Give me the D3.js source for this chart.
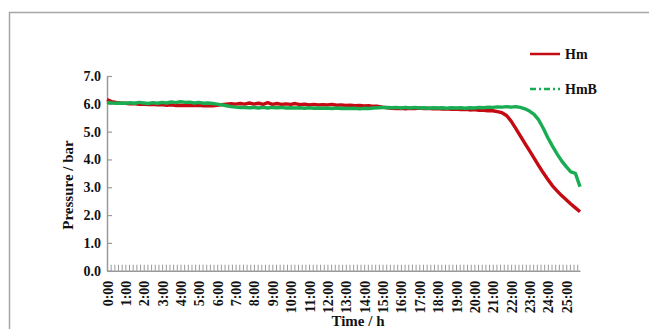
<!DOCTYPE html>
<html>
<head>
<meta charset="utf-8">
<script src="https://cdn.jsdelivr.net/npm/d3@7"></script>
<style>
  html, body { margin: 0; padding: 0; background: #fff; }
  svg { display: block; }
  text { font-family: "Liberation Serif", "Times New Roman", serif; font-weight: bold; fill: #111; }
</style>
</head>
<body>
<svg id="chart" width="649" height="329"></svg>
<script>
// Sampling times (hours) for both pressure records, every 15 minutes
const times = d3.range(0, 25.76, 0.25);

// Pressure record Hm (bar)
const hmValues = [
  6.15, 6.08, 6.05, 6.03, 6.02, 6.00, 6.01, 5.98, 5.99, 5.97, 5.98, 5.96,
  5.97, 5.95, 5.96, 5.94, 5.95, 5.94, 5.95, 5.94, 5.95, 5.93, 5.94, 5.93,
  5.95, 5.97, 5.99, 6.00, 5.99, 6.01, 5.99, 6.03, 5.99, 6.02, 5.98, 6.04,
  5.98, 6.01, 5.98, 6.00, 5.98, 6.01, 5.97, 5.99, 5.96, 5.98, 5.96, 5.97,
  5.96, 5.98, 5.95, 5.96, 5.94, 5.95, 5.93, 5.94, 5.92, 5.93, 5.91, 5.91,
  5.88, 5.86, 5.84, 5.83, 5.84, 5.82, 5.84, 5.83, 5.85, 5.83, 5.84, 5.82,
  5.83, 5.81, 5.82, 5.80, 5.81, 5.79, 5.80, 5.78, 5.79, 5.77, 5.77, 5.75,
  5.75, 5.72, 5.68, 5.58, 5.38, 5.12, 4.85, 4.58, 4.32, 4.05, 3.78, 3.52,
  3.28, 3.05, 2.87, 2.70, 2.55, 2.40, 2.26, 2.12
];

// Pressure record HmB (bar)
const hmbValues = [
  6.05, 6.03, 6.02, 6.03, 6.02, 6.04, 6.02, 6.05, 6.03, 6.01, 6.04, 6.02,
  6.05, 6.03, 6.07, 6.04, 6.08, 6.05, 6.06, 6.03, 6.05, 6.02, 6.03, 6.01,
  5.99, 5.96, 5.93, 5.90, 5.88, 5.87, 5.87, 5.86, 5.87, 5.85, 5.87, 5.85,
  5.87, 5.86, 5.87, 5.85, 5.86, 5.85, 5.86, 5.84, 5.86, 5.84, 5.85, 5.84,
  5.85, 5.83, 5.85, 5.83, 5.84, 5.83, 5.84, 5.82, 5.84, 5.83, 5.85, 5.86,
  5.87, 5.87, 5.86, 5.87, 5.85, 5.87, 5.85, 5.87, 5.85, 5.86, 5.84, 5.86,
  5.85, 5.86, 5.84, 5.86, 5.85, 5.86, 5.84, 5.86, 5.85, 5.87, 5.86, 5.88,
  5.87, 5.89, 5.88, 5.90, 5.88, 5.90, 5.87, 5.82, 5.74, 5.62, 5.42, 5.12,
  4.78, 4.48, 4.20, 3.95, 3.74, 3.55, 3.50, 3.02
];

// Axis labels
const hourTicks = d3.range(0, 26);
const hourLabels = hourTicks.map(h => h + ":00");
const pressureTicks = [0, 1, 2, 3, 4, 5, 6, 7];

const series = [
  { name: "Hm", values: hmValues, color: "#c40a12", dash: null },
  { name: "HmB", values: hmbValues, color: "#18ad52", dash: "6,3,2,3" }
];

const svg = d3.select("#chart");
const axisColor = "#9a9a9a";

// Outer frame
svg.append("path")
  .attr("d", "M9.5,340V12.5H660")
  .attr("fill", "none")
  .attr("stroke", "#a6a6a6")
  .attr("stroke-width", 1.5);

const x = d3.scaleLinear().domain([0, 25.75]).range([107, 580]);
const y = d3.scaleLinear().domain([0, 7]).range([270.7, 76]);

// Y axis with inward ticks
const yAxis = svg.append("g")
  .attr("transform", `translate(${x(0)},0)`)
  .call(d3.axisLeft(y).tickValues(pressureTicks).tickSize(-5).tickSizeOuter(0)
    .tickPadding(6).tickFormat(d3.format(".1f")));
yAxis.select(".domain").attr("stroke", axisColor).attr("stroke-width", 1.5);
yAxis.selectAll(".tick line").attr("stroke", axisColor).attr("stroke-width", 1.2);
yAxis.selectAll(".tick text").style("font-size", "14px").attr("fill", "#111");

// X axis: line with fine ticks every 12 minutes
const minorTicks = d3.range(0, 25.7, 0.2);
const xAxis = svg.append("g")
  .attr("transform", `translate(0,${y(0)})`)
  .call(d3.axisBottom(x).tickValues(minorTicks).tickSize(-6).tickSizeOuter(0).tickFormat(""));
xAxis.select(".domain").attr("stroke", axisColor).attr("stroke-width", 1.5);
xAxis.selectAll(".tick line").attr("stroke", axisColor).attr("stroke-width", 1);

// Hour labels, rotated
const xLabels = svg.append("g")
  .attr("transform", `translate(0,${y(0)})`)
  .call(d3.axisBottom(x).tickValues(hourTicks).tickSize(0)
    .tickFormat((d, i) => hourLabels[i]));
xLabels.select(".domain").remove();
xLabels.selectAll(".tick text")
  .attr("transform", "rotate(-90)")
  .attr("text-anchor", "end")
  .attr("x", -10)
  .attr("y", 0)
  .attr("dy", "0.36em")
  .style("font-size", "14px")
  .attr("fill", "#111");

// Data lines
const line = d3.line()
  .x((d, i) => x(times[i]))
  .y(d => y(d));

series.forEach(s => {
  svg.append("path")
    .datum(s.values)
    .attr("d", line)
    .attr("fill", "none")
    .attr("stroke", s.color)
    .attr("stroke-width", 3.4)
    .attr("stroke-linejoin", "round");
});

// Axis titles
svg.append("text")
  .attr("transform", "translate(73,185) rotate(-90)")
  .attr("text-anchor", "middle")
  .style("font-size", "15px")
  .text("Pressure / bar");

svg.append("text")
  .attr("x", 358)
  .attr("y", 326)
  .attr("text-anchor", "middle")
  .style("font-size", "15px")
  .text("Time / h");

// Legend
const legend = svg.append("g");
series.forEach((s, i) => {
  const ly = 54 + i * 35;
  legend.append("line")
    .attr("x1", 530).attr("x2", 560)
    .attr("y1", ly).attr("y2", ly)
    .attr("stroke", s.color)
    .attr("stroke-width", 2.5)
    .attr("stroke-dasharray", s.dash);
  legend.append("text")
    .attr("x", 565)
    .attr("y", ly)
    .attr("dy", "0.35em")
    .style("font-size", "14px")
    .text(s.name);
});
</script>
</body>
</html>
